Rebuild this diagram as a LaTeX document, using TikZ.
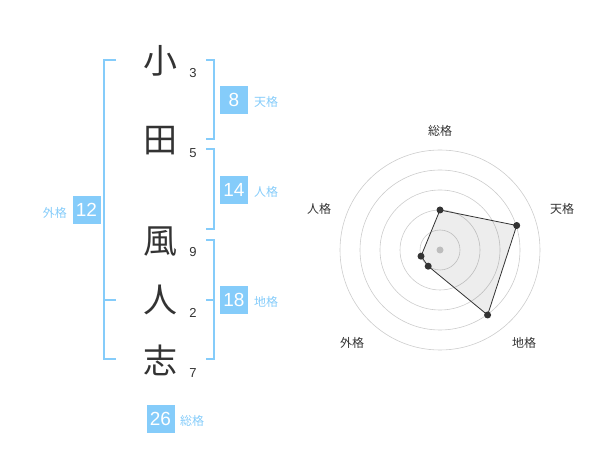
\documentclass[tikz,border=0pt]{standalone}
\usepackage{fontspec}
\setmainfont{Liberation Sans}
\newfontfamily\cjk{Noto Sans CJK JP}
\definecolor{lb}{HTML}{85CCFA}
\definecolor{tx}{HTML}{333333}
\definecolor{gr}{HTML}{CCCCCC}
\begin{document}
\begin{tikzpicture}[x=1pt,y=-1pt,
  brk/.style={draw=lb,line width=2pt},
  kanji/.style={font=\cjk\fontsize{34}{34}\selectfont,text=tx,inner sep=0},
  stroke/.style={font=\fontsize{13}{13}\selectfont,text=tx,inner sep=0},
  numbox/.style={fill=lb,text=white,minimum width=28,minimum height=28,inner sep=0,font=\fontsize{19}{19}\selectfont},
  lab/.style={text=lb,font=\cjk\fontsize{12}{12}\selectfont,inner sep=0},
  rlab/.style={text=tx,font=\cjk\fontsize{12}{12}\selectfont,inner sep=0},
  dot/.style={circle,fill=tx,inner sep=0,minimum size=7}]
\useasboundingbox (0,0) rectangle (600,470);
% kanji
\node[kanji] (k1) at (160,61) {小};
\node[kanji] (k2) at (160,141) {田};
\node[kanji] (k3) at (160,242) {風};
\node[kanji] (k4) at (160,300) {人};
\node[kanji] (k5) at (160,360) {志};
\node[stroke] (s1) at (193,73) {3};
\node[stroke] (s2) at (193,153) {5};
\node[stroke] (s3) at (193,252) {9};
\node[stroke] (s4) at (193,313) {2};
\node[stroke] (s5) at (193,373) {7};
% left bracket
\draw[brk] (116,60) -- (104,60) -- (104,359) -- (116,359);
\draw[brk] (104,300) -- (116,300);
% right brackets
\draw[brk] (206,60) -- (214,60) -- (214,139) -- (206,139);
\draw[brk] (206,149) -- (214,149) -- (214,229) -- (206,229);
\draw[brk] (206,240) -- (214,240) -- (214,359) -- (206,359);
\draw[brk] (206,300) -- (214,300);
% boxes
\node[numbox] (b1) at (86.5,210) {12};
\node[lab,anchor=east] (l1) at (67,213) {外格};
\node[numbox] (b2) at (234,100) {8};
\node[lab,anchor=west] (l2) at (254,102) {天格};
\node[numbox] (b3) at (234,190) {14};
\node[lab,anchor=west] (l3) at (254,192) {人格};
\node[numbox] (b4) at (234,300) {18};
\node[lab,anchor=west] (l4) at (254,302) {地格};
\node[numbox] (b5) at (160.5,419) {26};
\node[lab,anchor=west] (l5) at (180,421) {総格};
% radar
\coordinate (c) at (440,250);
\foreach \r in {20,40,60,80,100} \draw[gr,line width=0.6pt] (c) circle (\r);
\fill[gr] (c) circle (3.5);
\path (c) ++(0,-40) coordinate (p1);
\path (c) ++(76.7,-24.5) coordinate (p2);
\path (c) ++(47.6,65) coordinate (p3);
\path (c) ++(-11.8,16.2) coordinate (p4);
\path (c) ++(-19,6.2) coordinate (p5);
\fill[black,opacity=0.07] (p1) -- (p2) -- (p3) -- (p4) -- (p5) -- cycle;
\draw[tx,line width=0.8pt] (p1) -- (p2) -- (p3) -- (p4) -- (p5) -- cycle;
\foreach \p in {p1,p2,p3,p4,p5} \node[dot] at (\p) {};
\node[rlab] (r1) at (440,131) {総格};
\node[rlab] (r2) at (562,209) {天格};
\node[rlab] (r3) at (524,343) {地格};
\node[rlab] (r4) at (352,343) {外格};
\node[rlab] (r5) at (319,209) {人格};
\end{tikzpicture}
\end{document}
